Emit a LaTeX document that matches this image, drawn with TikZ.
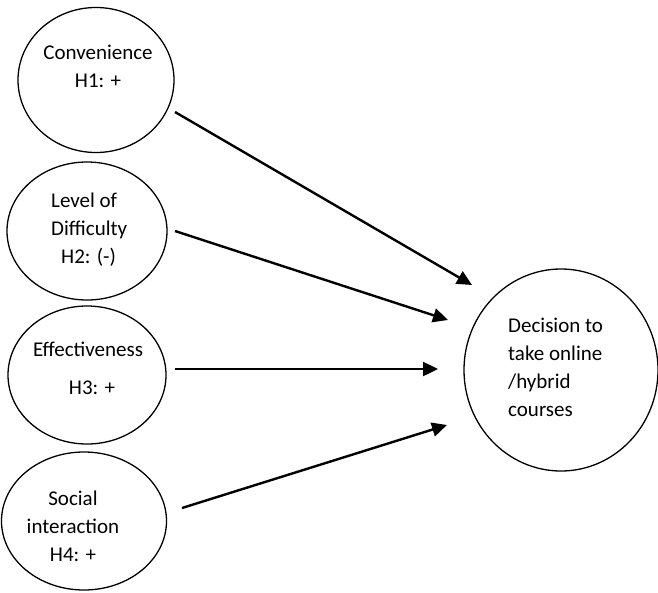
\documentclass[tikz,border=0pt]{standalone}
\usepackage{fontspec}
\setmainfont{Carlito}
\usetikzlibrary{shapes.geometric,arrows.meta}
\begin{document}
\begin{tikzpicture}[x=1pt,y=-1pt,
  bubble/.style={draw,ellipse,line width=1.3pt,inner sep=0pt},
  lbl/.style={font=\fontsize{21}{28}\selectfont,align=center,inner sep=0pt},
  link/.style={line width=2.4pt,-{Triangle[length=15pt,width=14pt]}}]
\useasboundingbox (0,0) rectangle (658,592);
% ellipses
\node[bubble,minimum width=156pt,minimum height=145pt] (conv) at (96,80) {};
\node[bubble,minimum width=160pt,minimum height=138pt] (diff) at (87,231) {};
\node[bubble,minimum width=158pt,minimum height=138pt] (eff) at (87,375) {};
\node[bubble,minimum width=165pt,minimum height=138pt] (soc) at (84,521) {};
\node[bubble,minimum width=194pt,minimum height=202pt] (dec) at (561,370) {};
% texts
\node[lbl] (convT) at (98,66) {Convenience\\H1: +};
\node[lbl,align=left,anchor=west] (diffT) at (51,230) {Level of\\Difficulty\\\hspace*{10pt}H2: (-)};
\node[lbl] (effT) at (88,368) {Effectiveness\\[10pt]\hspace*{8pt}H3: +};
\node[lbl] (socT) at (73,526) {Social\\interaction\\H4: +};
\node[lbl,align=left,anchor=west] (decT) at (508,367) {Decision to\\take online\\/hybrid\\courses};
% connector end points
\coordinate (s1) at (175,112);
\coordinate (t1) at (472,285);
\coordinate (s2) at (175,231);
\coordinate (t2) at (448,320);
\coordinate (s3) at (175,369);
\coordinate (t3) at (438,369);
\coordinate (s4) at (182,508);
\coordinate (t4) at (447,425);
\draw[link] (s1) -- (t1);
\draw[link] (s2) -- (t2);
\draw[link] (s3) -- (t3);
\draw[link] (s4) -- (t4);
\end{tikzpicture}
\end{document}
